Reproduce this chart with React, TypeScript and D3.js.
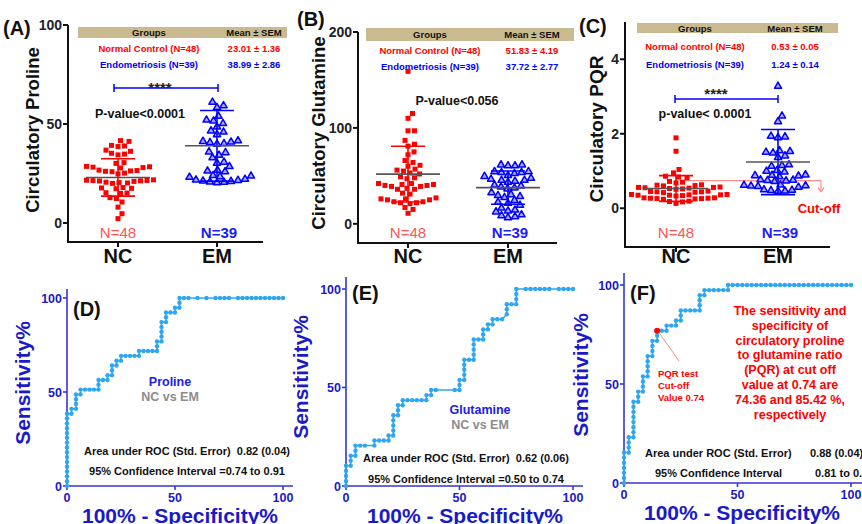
import React from 'react';
import * as d3 from 'd3';

const FONT = '"Liberation Sans", Arial, Helvetica, sans-serif';

// ---------- DATA ----------
const categories = ['NC', 'EM'];
const groupN = [48, 39];

const prolineNC = [41.6, 41.2, 39.2, 38.9, 38.6, 36.8, 36.2, 35.2, 34.8, 34.4, 30.5, 30.1, 28.6, 28.4, 28.2, 28.0, 27.8, 26.7, 26.5, 26.3, 26.1, 25.9, 25.2, 24.8, 21.8, 21.6, 21.5, 21.4, 21.3, 21.2, 21.0, 20.6, 20.4, 20.2, 20.0, 17.9, 17.7, 17.5, 17.3, 15.3, 15.1, 14.9, 12.8, 12.4, 10.6, 8.0, 4.7, 2.2];
const prolineEM = [61.3, 59.5, 58.6, 54.2, 52.3, 51.8, 50.5, 48.8, 46.8, 46.2, 44.9, 41.8, 41.5, 41.2, 40.9, 40.4, 40.1, 36.2, 35.8, 34.5, 33.2, 31.0, 30.5, 28.8, 26.9, 26.5, 26.2, 24.3, 24.0, 23.7, 23.4, 22.4, 22.0, 21.8, 21.5, 21.3, 21.0, 20.8, 20.6];
const prolineMean = [23.01, 38.99];
const prolineSEM = [1.36, 2.86];

const glutamineNC = [159, 115, 110, 97, 97, 87, 83, 81, 75, 72, 66, 64, 61, 60, 57, 56, 55, 53, 52, 49, 48, 47, 42, 42, 41, 41, 40, 40, 39, 39, 37, 36, 36, 32, 31, 27, 26, 26, 25, 25, 23, 23, 22, 22, 21, 17, 15, 11];
const glutamineEM = [62, 62, 61, 61, 55, 55, 54, 54, 53, 51, 50, 48, 47, 46, 46, 45, 44, 41, 40, 39, 38, 37, 33, 31, 30, 29, 28, 25, 23, 22, 20, 17, 15, 14, 13, 10, 9, 8, 7];
const glutamineMean = [51.83, 37.72];
const glutamineSEM = [4.19, 2.77];

const pqrNC = [1.89, 1.53, 1.04, 0.95, 0.86, 0.84, 0.82, 0.72, 0.7, 0.68, 0.63, 0.62, 0.61, 0.6, 0.57, 0.56, 0.56, 0.55, 0.54, 0.53, 0.52, 0.51, 0.46, 0.45, 0.44, 0.44, 0.43, 0.42, 0.37, 0.37, 0.36, 0.36, 0.35, 0.35, 0.34, 0.33, 0.28, 0.28, 0.27, 0.27, 0.26, 0.26, 0.25, 0.24, 0.19, 0.18, 0.17, 0.13];
const pqrEM = [3.29, 2.49, 2.34, 1.95, 1.93, 1.91, 1.56, 1.54, 1.52, 1.5, 1.42, 1.38, 1.18, 1.16, 1.14, 1.03, 1.01, 0.99, 0.91, 0.9, 0.89, 0.88, 0.86, 0.78, 0.77, 0.76, 0.75, 0.73, 0.64, 0.63, 0.62, 0.61, 0.6, 0.58, 0.51, 0.5, 0.49, 0.48, 0.47];
const pqrMean = [0.53, 1.24];
const pqrSEM = [0.05, 0.14];
const pqrCutoff = 0.74;

const groupNamesAB = ['Normal Control (N=48)', 'Endometriosis (N=39)'];
const groupNamesC = ['Normal control (N=48)', 'Endometriosis (N=39)'];

const ticksProline = [0, 50, 100];
const ticksGlutamine = [0, 100, 200];
const ticksPQR = [0, 2, 4];
const ticksROC = [0, 50, 100];

// ROC curves: [false positives out of 48, true positives out of 39]
const rocProline: [number, number][] = [
  [0, 0], [0, 1], [0, 2], [0, 3], [0, 4], [0, 5], [0, 6], [0, 7], [0, 8], [0, 9], [0, 10], [0, 11], [0, 12], [0, 13], [0, 14], [0, 15],
  [1, 15], [1, 16], [2, 16], [2, 17], [2, 18], [2, 19], [3, 19], [3, 20],
  [4, 20], [5, 20], [6, 20], [7, 20], [7, 21], [7, 22], [8, 22], [9, 22], [9, 23],
  [10, 23], [10, 24], [10, 25], [11, 25], [11, 26], [12, 26], [12, 27],
  [13, 27], [14, 27], [15, 27], [16, 27], [16, 28], [17, 28], [18, 28], [19, 28], [20, 28], [20, 29], [20, 30],
  [21, 30], [21, 31], [21, 32], [21, 33], [21, 34], [22, 34], [22, 35], [22, 36],
  [23, 36], [24, 36], [24, 37], [25, 37], [25, 38], [25, 39],
  [26, 39], [27, 39], [29, 39], [31, 39], [33, 39], [34, 39], [35, 39], [36, 39], [38, 39], [39, 39], [40, 39], [41, 39], [42, 39], [43, 39], [44, 39], [45, 39], [46, 39], [47, 39], [48, 39],
];
const rocGlutamine: [number, number][] = [
  [0, 0], [0, 1], [0, 2], [0, 3], [0, 4], [1, 4], [1, 5], [1, 6], [2, 6], [2, 7], [2, 8],
  [3, 8], [4, 8], [6, 8], [6, 9], [7, 9], [8, 9], [9, 9], [9, 10],
  [10, 10], [10, 11], [10, 12], [10, 13], [10, 14], [11, 14], [11, 15], [11, 16], [12, 16], [12, 17],
  [13, 17], [14, 17], [15, 17], [16, 17], [17, 17], [17, 18], [18, 18], [18, 19],
  [19, 19], [23, 19], [24, 19], [24, 20], [24, 21], [25, 21], [25, 22], [25, 23], [25, 24], [25, 25],
  [26, 25], [27, 25], [27, 26], [27, 27], [27, 28], [27, 29], [28, 29], [29, 29], [29, 30], [29, 31],
  [30, 31], [30, 32], [31, 32], [31, 33], [32, 33], [33, 33], [34, 34], [34, 35], [34, 36],
  [35, 36], [36, 36], [36, 37], [36, 38], [36, 39],
  [38, 39], [39, 39], [40, 39], [41, 39], [42, 39], [43, 39], [45, 39], [46, 39], [47, 39], [48, 39],
];
const rocPQR: [number, number][] = [
  [0, 0], [0, 1], [0, 2], [0, 3], [0, 4], [0, 5], [0, 6], [1, 6], [1, 7], [1, 8], [1, 9],
  [2, 9], [2, 10], [2, 11], [2, 12], [2, 13], [2, 14], [2, 15], [2, 16], [3, 16], [3, 17], [3, 18],
  [4, 18], [4, 19], [4, 20], [4, 21], [5, 21], [5, 22], [5, 23], [5, 24], [5, 25],
  [6, 25], [6, 26], [6, 27], [6, 28], [7, 28], [7, 29], [7, 30], [8, 30], [9, 30], [9, 31],
  [10, 31], [11, 31], [11, 32], [12, 32], [12, 33], [12, 34], [13, 34], [14, 34], [15, 34], [16, 34], [16, 35], [16, 36], [16, 37],
  [17, 37], [17, 38], [18, 38], [19, 38], [20, 38], [21, 38], [22, 38], [22, 39],
  [23, 39], [24, 39], [25, 39], [26, 39], [27, 39], [28, 39], [29, 39], [30, 39], [31, 39], [32, 39], [33, 39], [34, 39], [35, 39],
  [36, 39], [37, 39], [38, 39], [39, 39], [40, 39], [41, 39], [42, 39], [43, 39], [44, 39], [45, 39], [46, 39], [47, 39], [48, 39],
];
const pqrCutoffPoint: [number, number] = [7, 30];

const rocStatsProline = ['Area under ROC (Std. Error)  0.82 (0.04)', '95% Confidence Interval =0.74 to 0.91'];
const rocStatsGlutamine = ['Area under ROC (Std. Error)  0.62 (0.06)', '95% Confidence Interval =0.50 to 0.74'];
const rocStatsPQR = ['Area under ROC (Std. Error)', '0.88 (0.04)', '95% Confidence Interval', '0.81 to 0.95'];
const pqrNoteLines = ['The sensitivity and', 'specificity of', 'circulatory proline', 'to glutamine ratio', '(PQR) at cut off', 'value at 0.74 are', '74.36 and 85.42 %,', 'respectively'];
const pqrPointerLines = ['PQR test', 'Cut-off', 'Value 0.74'];

// ---------- HELPERS ----------
function swarm(values: number[], y: (v: number) => number, cx: number, d: number) {
  const idx = values.map((_, i) => i).sort((a, b) => values[a] - values[b]);
  const placed: { x: number; y: number }[] = [];
  const out: { x: number; y: number }[] = new Array(values.length);
  for (const i of idx) {
    const py = y(values[i]);
    let px = cx;
    for (let k = 0; k < 600; k++) {
      const off = k === 0 ? 0 : (k % 2 ? 1 : -1) * Math.ceil(k / 2) * 0.5;
      const tx = cx + off;
      if (placed.every(p => (p.x - tx) ** 2 + (p.y - py) ** 2 >= d * d)) { px = tx; break; }
    }
    placed.push({ x: px, y: py });
    out[i] = { x: px, y: py };
  }
  return out;
}

const RED = '#ff0000';
const BLUE = '#0000ff';

function ScatterPanel(p: any) {
  const y = d3.scaleLinear().domain(p.yDomain).range([p.axisBottom, p.axisTop]);
  const ncPts = swarm(p.nc, y, p.centers[0], 6.3);
  const emPts = swarm(p.em, y, p.centers[1], 6.7);
  const sd = p.mean.map((m: number, i: number) => p.sem[i] * Math.sqrt(groupN[i]));
  const tri = d3.symbol().type(d3.symbolTriangle).size(22)();
  return (
    <g>
      <rect x={p.band[0]} y={p.band[1]} width={p.band[2] - p.band[0]} height={p.band[3] - p.band[1]} fill="#c9bb8f" />
      <text x={p.cols[0]} y={p.rows[0]} textAnchor="middle" fontSize={9.5} fontWeight="bold" fill="#111">Groups</text>
      <text x={p.cols[1]} y={p.rows[0]} textAnchor="middle" fontSize={9.5} fontWeight="bold" fill="#111">Mean ± SEM</text>
      {p.groupNames.map((g: string, i: number) => (
        <text key={'g' + i} x={p.cols[0]} y={p.rows[i + 1]} textAnchor="middle" fontSize={9.5} fontWeight="bold" fill={i ? BLUE : RED}>{g}</text>
      ))}
      {p.mean.map((m: number, i: number) => (
        <text key={'m' + i} x={p.cols[1]} y={p.rows[i + 1]} textAnchor="middle" fontSize={9.5} fontWeight="bold" fill={i ? BLUE : RED}>{`${m.toFixed(2)} ± ${p.sem[i].toFixed(2)}`}</text>
      ))}

      {/* axes */}
      <line x1={p.axisX} x2={p.axisX} y1={p.axisTop} y2={p.axisBottom + 1} stroke="#111" strokeWidth={2} />
      <line x1={p.axisX - 1} x2={p.axisRight} y1={p.axisBottom} y2={p.axisBottom} stroke="#111" strokeWidth={2} />
      {p.ticks.map((t: number) => (
        <g key={t}>
          <line x1={p.axisX - 5} x2={p.axisX} y1={y(t)} y2={y(t)} stroke="#111" strokeWidth={2} />
          <text x={p.axisX - 6} y={y(t) + 5} textAnchor="end" fontSize={14} fontWeight="bold" fill="#222">{t}</text>
        </g>
      ))}
      {categories.map((c, i) => (
        <g key={c}>
          <line x1={p.centers[i]} x2={p.centers[i]} y1={p.axisBottom} y2={p.axisBottom + 5} stroke="#111" strokeWidth={2} />
          <text x={p.centers[i]} y={263} textAnchor="middle" fontSize={20} fontWeight="bold" fill="#111">{c}</text>
        </g>
      ))}
      <text transform={`translate(${p.titleX},${p.titleY}) rotate(-90)`} textAnchor="middle" fontSize={p.titleSize} fontWeight="bold" fill="#111">{p.title}</text>
      <text x={p.letterX} y={p.letterY} fontSize={20} fontWeight="bold" fill="#111">{p.letter}</text>

      {p.cutoff !== undefined && (
        <g stroke="#ff8c8c" strokeWidth={1.2} fill="none">
          <line x1={p.cutoffX0} x2={p.cutoffX1} y1={y(p.cutoff)} y2={y(p.cutoff)} />
          <line x1={p.cutoffX1} x2={p.cutoffX1} y1={y(p.cutoff)} y2={y(p.cutoff) + 11} />
          <path d={`M${p.cutoffX1 - 3},${y(p.cutoff) + 7} L${p.cutoffX1},${y(p.cutoff) + 11} L${p.cutoffX1 + 3},${y(p.cutoff) + 7}`} />
        </g>
      )}

      {/* points */}
      {ncPts.map((q, i) => (
        <rect key={'n' + i} x={q.x - 2.5} y={q.y - 2.5} width={5} height={5} fill={RED} />
      ))}
      {emPts.map((q, i) => (
        <path key={'e' + i} d={tri as string} transform={`translate(${q.x},${q.y + 0.5})`} fill="#a8a8ff" stroke={BLUE} strokeWidth={1.5} strokeLinejoin="round" />
      ))}

      {/* mean and SD */}
      {p.mean.map((m: number, i: number) => {
        const col = i ? BLUE : RED;
        const cx = p.centers[i];
        return (
          <g key={'s' + i}>
            <line x1={cx} x2={cx} y1={y(m - sd[i])} y2={y(m + sd[i])} stroke={col} strokeWidth={1.6} />
            <line x1={cx - 17} x2={cx + 17} y1={y(m + sd[i])} y2={y(m + sd[i])} stroke={col} strokeWidth={1.6} />
            <line x1={cx - 17} x2={cx + 17} y1={y(m - sd[i])} y2={y(m - sd[i])} stroke={col} strokeWidth={1.6} />
            <line x1={cx - 32} x2={cx + 32} y1={y(m)} y2={y(m)} stroke="#555" strokeWidth={1.6} />
          </g>
        );
      })}

      {p.bracket && (
        <g>
          <line x1={p.bracket[0]} x2={p.bracket[1]} y1={p.bracket[2]} y2={p.bracket[2]} stroke={BLUE} strokeWidth={1.5} />
          <line x1={p.bracket[0]} x2={p.bracket[0]} y1={p.bracket[2] - 4} y2={p.bracket[2] + 4} stroke={BLUE} strokeWidth={1.5} />
          <line x1={p.bracket[1]} x2={p.bracket[1]} y1={p.bracket[2] - 4} y2={p.bracket[2] + 4} stroke={BLUE} strokeWidth={1.5} />
          <text x={p.stars[0]} y={p.stars[1]} textAnchor="middle" fontSize={15} fontWeight="bold" fill="#222">****</text>
        </g>
      )}
      <text x={p.pval[0]} y={p.pval[1]} textAnchor="middle" fontSize={12.5} fontWeight="bold" fill="#111">{p.pval[2]}</text>

      <text x={p.centers[0]} y={238} textAnchor="middle" fontSize={15} fill="#ff5555">{`N=${groupN[0]}`}</text>
      <text x={p.centers[1] + 2} y={238} textAnchor="middle" fontSize={15} fontWeight="bold" fill="#1a1aff">{`N=${groupN[1]}`}</text>
    </g>
  );
}

const ROC_LINE = '#2ea6f2';
const ROC_AXIS = '#3535d5';
const ROC_TEXT = '#1a1ac8';

function RocPanel(p: any) {
  const x = d3.scaleLinear().domain([0, 100]).range([p.x0, p.x100]);
  const y = d3.scaleLinear().domain([0, 100]).range([p.y0, p.y100]);
  const pts: [number, number][] = p.pts.map(([fp, tp]: [number, number]) => [x((fp / groupN[0]) * 100), y((tp / groupN[1]) * 100)]);
  const path = d3.line()(pts) as string;
  return (
    <g>
      <line x1={p.x0} x2={p.x0} y1={p.yTop} y2={p.y0} stroke={ROC_AXIS} strokeWidth={1.6} />
      <line x1={p.x0} x2={p.xEnd} y1={p.y0} y2={p.y0} stroke={ROC_AXIS} strokeWidth={1.6} />
      {ticksROC.map(t => (
        <g key={t}>
          <line x1={p.x0 - 4} x2={p.x0} y1={y(t)} y2={y(t)} stroke={ROC_AXIS} strokeWidth={1.6} />
          <text x={p.x0 - 5} y={y(t) + 4.5} textAnchor="end" fontSize={12.5} fontWeight="bold" fill={ROC_TEXT}>{t}</text>
          <line x1={x(t)} x2={x(t)} y1={p.y0} y2={p.y0 + 4} stroke={ROC_AXIS} strokeWidth={1.6} />
          <text x={x(t)} y={p.y0 + 16} textAnchor="middle" fontSize={12.5} fontWeight="bold" fill={ROC_TEXT}>{t}</text>
        </g>
      ))}
      <path d={path} fill="none" stroke={ROC_LINE} strokeWidth={1.5} />
      {pts.map((q, i) => <circle key={i} cx={q[0]} cy={q[1]} r={2.2} fill={ROC_LINE} />)}
      <text transform={`translate(${p.titleYX},${p.titleYY}) rotate(-90)`} textAnchor="middle" fontSize={21} fontWeight="bold" fill={ROC_TEXT}>Sensitivity%</text>
      <text x={p.titleXX} y={p.titleXY} textAnchor="middle" fontSize={21} fontWeight="bold" fill={ROC_TEXT}>100% - Specificity%</text>
      <text x={p.letterX} y={p.letterY} fontSize={20} fontWeight="bold" fill="#111">{p.letter}</text>
      {p.name && (
        <g>
          <text x={p.nameX} y={p.nameY} textAnchor="middle" fontSize={12.5} fontWeight="bold" fill="#2020ee">{p.name}</text>
          <text x={p.nameX} y={p.nameY + 14.5} textAnchor="middle" fontSize={12.5} fontWeight="bold" fill="#8c8c8c">NC vs EM</text>
        </g>
      )}
      {p.children}
    </g>
  );
}

export default function App() {
  const rocF = { x0: 624, x100: 851, y0: 483, y100: 285 };
  const fx = d3.scaleLinear().domain([0, 100]).range([rocF.x0, rocF.x100]);
  const fy = d3.scaleLinear().domain([0, 100]).range([rocF.y0, rocF.y100]);
  const cut = [fx((pqrCutoffPoint[0] / groupN[0]) * 100), fy((pqrCutoffPoint[1] / groupN[1]) * 100)];
  const statStyle = { fontSize: 11, fontWeight: 'bold' as const, fill: '#111' };
  return (
    <svg width={862} height={524} style={{ position: 'absolute', left: 0, top: 0 }} fontFamily={FONT}>
      <rect width={862} height={524} fill="#fff" />

      <ScatterPanel
        axisX={68} axisTop={25} axisBottom={242} axisRight={263} yDomain={[-9.6, 100]} ticks={ticksProline}
        centers={[118, 217]} nc={prolineNC} em={prolineEM} mean={prolineMean} sem={prolineSEM}
        band={[78, 27, 287, 38]} cols={[149, 254]} rows={[36, 51.5, 68]} groupNames={groupNamesAB}
        title="Circulatory Proline" titleX={38.5} titleY={130} titleSize={18.5}
        letter="(A)" letterX={3} letterY={35}
        bracket={[114, 218, 88]} stars={[160, 93]} pval={[140, 118, 'P-value<0.0001']}
      />
      <ScatterPanel
        axisX={358} axisTop={32} axisBottom={243} axisRight={557} yDomain={[-20, 200]} ticks={ticksGlutamine}
        centers={[408, 508]} nc={glutamineNC} em={glutamineEM} mean={glutamineMean} sem={glutamineSEM}
        band={[366, 28, 574, 41]} cols={[430, 532]} rows={[38, 53.5, 69.5]} groupNames={groupNamesAB}
        title="Circulatory Glutamine" titleX={325} titleY={133} titleSize={18.5}
        letter="(B)" letterX={297} letterY={26}
        pval={[457, 105, 'P-value<0.056']}
      />
      <ScatterPanel
        axisX={625} axisTop={22} axisBottom={247} axisRight={830} yDomain={[-1.04, 5]} ticks={ticksPQR}
        centers={[676, 778]} nc={pqrNC} em={pqrEM} mean={pqrMean} sem={pqrSEM}
        band={[637, 23, 838, 33]} cols={[695, 795]} rows={[32, 50, 67.5]} groupNames={groupNamesC}
        title="Circulatory PQR" titleX={603} titleY={129} titleSize={19}
        letter="(C)" letterX={579} letterY={33}
        bracket={[675, 778, 99]} stars={[716, 99]} pval={[705, 118, 'p-value< 0.0001']}
        cutoff={pqrCutoff} cutoffX0={680} cutoffX1={821}
      />
      <text x={819} y={213} textAnchor="middle" fontSize={13} fontWeight="bold" fill={RED}>Cut-off</text>

      <RocPanel x0={67} x100={283} y0={486} y100={298} yTop={289} xEnd={293} pts={rocProline}
        titleYX={30} titleYY={383} titleXX={180} titleXY={523} letter="(D)" letterX={73} letterY={316}
        name="Proline" nameX={170} nameY={386}>
        <text x={187} y={455} textAnchor="middle" {...statStyle} style={{ whiteSpace: 'pre' }}>{rocStatsProline[0]}</text>
        <text x={187} y={474.5} textAnchor="middle" {...statStyle}>{rocStatsProline[1]}</text>
      </RocPanel>

      <RocPanel x0={346} x100={573} y0={486} y100={289} yTop={277} xEnd={583} pts={rocGlutamine}
        titleYX={308} titleYY={377} titleXX={465} titleXY={523} letter="(E)" letterX={352} letterY={300}
        name="Glutamine" nameX={480} nameY={414}>
        <text x={466} y={462} textAnchor="middle" {...statStyle} style={{ whiteSpace: 'pre' }}>{rocStatsGlutamine[0]}</text>
        <text x={466} y={482.5} textAnchor="middle" {...statStyle}>{rocStatsGlutamine[1]}</text>
      </RocPanel>

      <RocPanel x0={rocF.x0} x100={rocF.x100} y0={rocF.y0} y100={rocF.y100} yTop={273} xEnd={862} pts={rocPQR}
        titleYX={588} titleYY={375} titleXX={742} titleXY={520} letter="(F)" letterX={630} letterY={300}>
        <line x1={cut[0] + 2} y1={cut[1] + 2} x2={679} y2={361} stroke="#ff8c8c" strokeWidth={1} />
        <circle cx={cut[0]} cy={cut[1]} r={3} fill={RED} />
        {pqrPointerLines.map((s, i) => (
          <text key={s} x={658} y={377 + i * 11.8} fontSize={9.5} fontWeight="bold" fill={RED}>{s}</text>
        ))}
        {pqrNoteLines.map((s, i) => (
          <text key={s} x={790} y={315 + i * 14.8} textAnchor="middle" fontSize={12.5} fontWeight="bold" fill={RED}>{s}</text>
        ))}
        <text x={645} y={457} {...statStyle}>{rocStatsPQR[0]}</text>
        <text x={810} y={457} {...statStyle}>{rocStatsPQR[1]}</text>
        <text x={655} y={477} {...statStyle}>{rocStatsPQR[2]}</text>
        <text x={815} y={477} {...statStyle}>{rocStatsPQR[3]}</text>
      </RocPanel>
    </svg>
  );
}
